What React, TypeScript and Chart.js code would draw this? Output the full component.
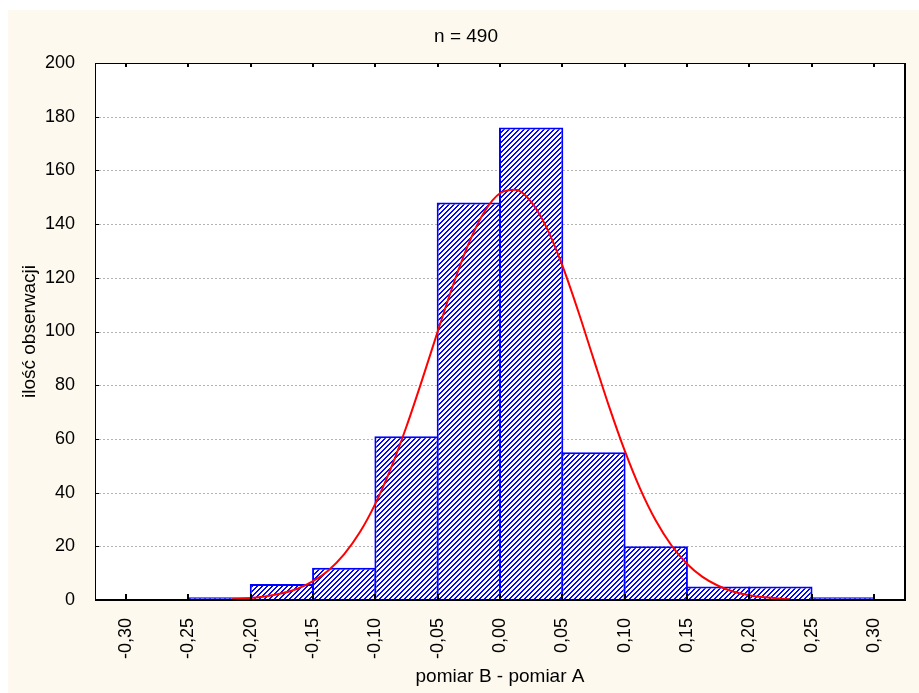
import { useEffect, useRef } from "react";
import { Chart, registerables } from "chart.js";

Chart.register(...registerables);

// Histogram of differences between two measurements (pomiar B - pomiar A)
const sampleSize = 490;
const binWidth = 0.05;
const binLower = [-0.25, -0.2, -0.15, -0.1, -0.05, 0, 0.05, 0.1, 0.15, 0.2, 0.25];
const binCounts = [1, 6, 12, 61, 148, 176, 55, 20, 5, 5, 1];

// Fitted normal curve (expected counts per bin)
const curveX = [
  -0.215, -0.2, -0.1875, -0.175, -0.1625, -0.15, -0.1375, -0.125, -0.1125, -0.1,
  -0.0875, -0.075, -0.0625, -0.05, -0.0375, -0.025, -0.0125, 0, 0.0125, 0.025,
  0.0375, 0.05, 0.0625, 0.075, 0.0875, 0.1, 0.1125, 0.125, 0.1375, 0.15,
  0.1625, 0.175, 0.1875, 0.2, 0.2125, 0.2325,
];
const curveY = [
  0.3, 0.7, 1.4, 2.5, 4.2, 7.0, 11.1, 17.1, 25.2, 35.9,
  49.1, 64.7, 82.0, 100.0, 117.5, 132.9, 144.6, 151.5, 152.8, 148.3,
  138.6, 124.6, 107.9, 89.9, 72.1, 55.7, 41.4, 29.6, 20.4, 13.5,
  8.6, 5.3, 3.1, 1.8, 1.0, 0.3,
];

const xTicks = [-0.3, -0.25, -0.2, -0.15, -0.1, -0.05, 0, 0.05, 0.1, 0.15, 0.2, 0.25, 0.3];
const yTicks = [0, 20, 40, 60, 80, 100, 120, 140, 160, 180, 200];

const FONT = "'Liberation Sans', Arial, sans-serif";
const CREAM = "#FDF9EE";
const BLUE = "#0000FF";

// Blue diagonal hatching on white for the bar fill
function makeHatch(ctx: CanvasRenderingContext2D): CanvasPattern | string {
  const size = 5;
  const tile = document.createElement("canvas");
  tile.width = size;
  tile.height = size;
  const t = tile.getContext("2d");
  if (!t) return BLUE;
  t.fillStyle = "#FFFFFF";
  t.fillRect(0, 0, size, size);
  t.fillStyle = BLUE;
  for (let i = 0; i < size; i++) {
    const y = size - 1 - i;
    t.fillRect(i, y, 1, 1);
    t.fillRect((i + 1) % size, y, 1, 1);
  }
  return ctx.createPattern(tile, "repeat") || BLUE;
}

const framePlugin = {
  id: "statFrame",
  beforeDatasetsDraw(chart: any) {
    const { ctx, chartArea: a, scales } = chart;
    ctx.save();
    ctx.fillStyle = "#FFFFFF";
    ctx.fillRect(a.left, a.top, a.right - a.left, a.bottom - a.top);
    ctx.strokeStyle = "#B4B4B4";
    ctx.lineWidth = 1;
    ctx.setLineDash([2, 2]);
    for (const v of yTicks) {
      if (v === yTicks[0] || v === yTicks[yTicks.length - 1]) continue;
      const y = Math.round(scales.y.getPixelForValue(v)) + 0.5;
      ctx.beginPath();
      ctx.moveTo(a.left + 4, y);
      ctx.lineTo(a.right, y);
      ctx.stroke();
    }
    ctx.restore();
  },
  afterDatasetsDraw(chart: any) {
    const { ctx, chartArea: a, scales } = chart;
    const L = Math.round(a.left);
    const R = Math.round(a.right);
    const T = Math.round(a.top);
    const B = Math.round(a.bottom);
    ctx.save();
    ctx.fillStyle = "#000000";
    // frame: thin left/top, heavier right/bottom
    ctx.fillRect(L, T, 1, B - T);
    ctx.fillRect(L, T, R - L, 1);
    ctx.fillRect(R - 1, T, 2, B - T + 1);
    ctx.fillRect(L, B - 1, R - L + 1, 2);
    // x tick marks (inside, top and bottom)
    for (const v of xTicks) {
      const x = Math.round(scales.x.getPixelForValue(v));
      ctx.fillRect(x - 1, B - 6, 2, 5);
      ctx.fillRect(x - 1, T, 2, 4);
    }
    // y tick marks (inside, left)
    for (const v of yTicks) {
      const y = Math.round(scales.y.getPixelForValue(v));
      ctx.fillRect(L, y, 4, 1);
    }
    ctx.restore();
  },
  afterDraw(chart: any) {
    const { ctx } = chart;
    ctx.save();
    ctx.fillStyle = "#000000";
    ctx.font = `19px ${FONT}`;
    ctx.textAlign = "center";
    ctx.textBaseline = "middle";
    ctx.fillText(`n = ${sampleSize}`, chart.width / 2 + 2.5, 26.5);
    ctx.restore();
  },
};

export default function App() {
  const canvasRef = useRef<HTMLCanvasElement | null>(null);

  useEffect(() => {
    const canvas = canvasRef.current;
    if (!canvas) return;
    const ctx = canvas.getContext("2d");
    if (!ctx) return;
    const hatch = makeHatch(ctx);

    const chart = new Chart(canvas, {
      type: "bar",
      data: {
        datasets: [
          {
            type: "line",
            data: curveX.map((x, i) => ({ x, y: curveY[i] })),
            borderColor: "#FF0000",
            borderWidth: 2,
            pointRadius: 0,
            fill: false,
            cubicInterpolationMode: "monotone",
            order: 0,
          } as any,
          {
            type: "bar",
            data: binLower.map((lo, i) => ({ x: lo + binWidth / 2, y: binCounts[i] })),
            backgroundColor: hatch as any,
            borderColor: BLUE,
            borderWidth: 2,
            borderSkipped: "start",
            barPercentage: 1.032,
            categoryPercentage: 1,
            order: 1,
          } as any,
        ],
      },
      options: {
        animation: false,
        responsive: false,
        devicePixelRatio: 1,
        layout: { padding: { top: 53, right: 14, bottom: 0, left: 0 } },
        plugins: {
          legend: { display: false },
          tooltip: { enabled: false },
          title: { display: false },
        },
        scales: {
          x: {
            type: "linear",
            min: -0.325,
            max: 0.325,
            offset: false,
            grid: { display: false, offset: false },
            border: { display: false },
            afterBuildTicks: (s: any) => {
              s.ticks = xTicks.map((v) => ({ value: v }));
            },
            afterFit: (s: any) => {
              s.height = 93;
            },
            ticks: {
              autoSkip: false,
              minRotation: 90,
              maxRotation: 90,
              padding: 10,
              color: "#000000",
              font: { family: FONT, size: 18 },
              callback: (v: any) => Number(v).toFixed(2).replace(".", ","),
            },
            title: {
              display: true,
              text: "pomiar B - pomiar A",
              color: "#000000",
              font: { family: FONT, size: 19 },
              padding: { top: 0, bottom: 5 },
            },
          },
          y: {
            type: "linear",
            min: 0,
            max: 200,
            grid: { display: false },
            border: { display: false },
            afterBuildTicks: (s: any) => {
              s.ticks = yTicks.map((v) => ({ value: v }));
            },
            afterFit: (s: any) => {
              s.width = 87;
            },
            ticks: {
              padding: 12,
              color: "#000000",
              font: { family: FONT, size: 18 },
            },
            title: {
              display: true,
              text: "ilość obserwacji",
              color: "#000000",
              font: { family: FONT, size: 19 },
              padding: { top: 10, bottom: 0 },
            },
          },
        },
      },
      plugins: [framePlugin],
    } as any);

    return () => chart.destroy();
  }, []);

  return (
    <div
      style={{
        position: "fixed",
        left: 8,
        top: 10,
        width: 911,
        height: 683,
        background: CREAM,
      }}
    >
      <canvas ref={canvasRef} width={911} height={683} style={{ display: "block" }} />
    </div>
  );
}
